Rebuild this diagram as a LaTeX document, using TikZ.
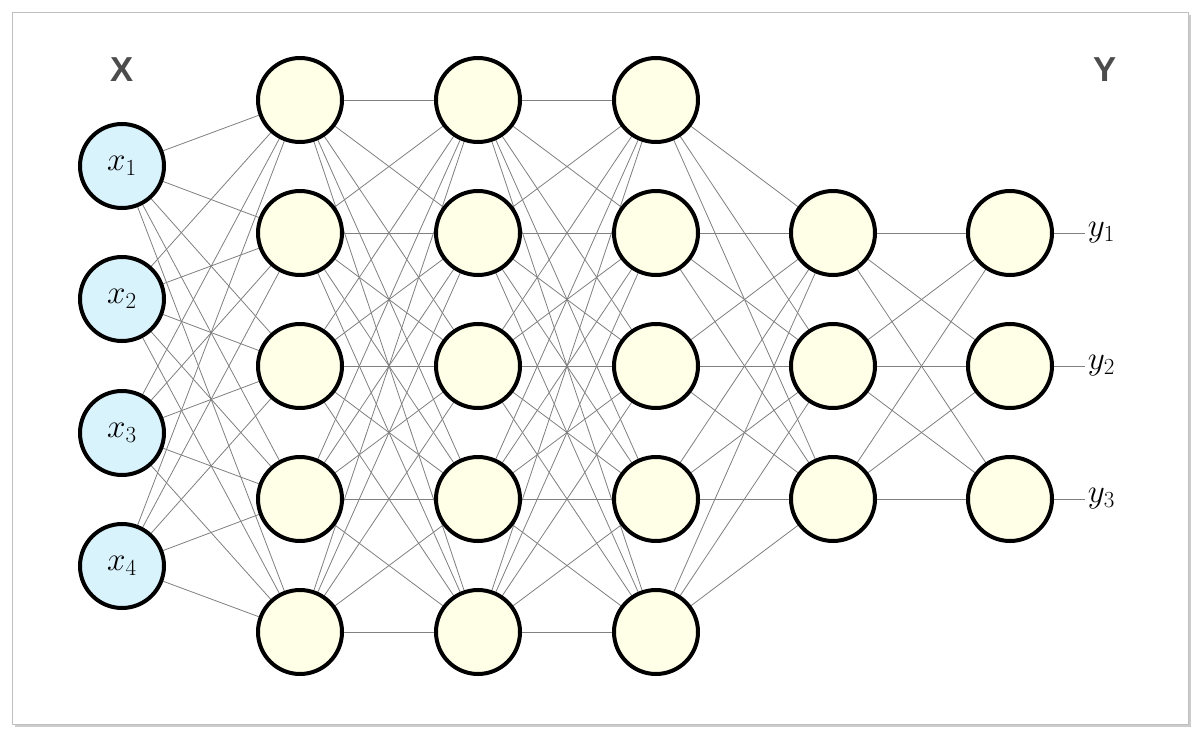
\documentclass[tikz,border=0pt]{standalone}
\usepackage{fontspec}
\setsansfont{Liberation Sans}
\begin{document}
\begin{tikzpicture}[x=0.75pt,y=-0.75pt,
  neuron/.style={circle,draw=black,line width=3pt,minimum size=63pt,inner sep=0pt},
  inp/.style={neuron,fill=cyan!15},
  hid/.style={neuron,fill=yellow!10},
  conn/.style={draw=gray,line width=0.6pt},
  big/.style={font=\sffamily\bfseries\fontsize{26}{30}\selectfont,text=black!70}]
\fill[white] (0,0) rectangle (1200,736);
\fill[black!20] (15,15) rectangle (1191,727);
\draw[black!25,fill=white] (12,12) rectangle (1188,724);
\useasboundingbox (0,0) rectangle (1200,736);
% layers
\foreach \i/\y in {1/166,2/299,3/433,4/566} \coordinate (i\i) at (122,\y);
\foreach \l/\x in {a/300,b/478,c/656} \foreach \i/\y in {1/100,2/233,3/366,4/499,5/632} \coordinate (\l\i) at (\x,\y);
\foreach \i/\y in {1/233,2/366,3/499} {\coordinate (d\i) at (833,\y); \coordinate (o\i) at (1010,\y); \coordinate (e\i) at (1085,\y);}
% connections
\foreach \p in {1,...,4} \foreach \q in {1,...,5} \draw[conn] (i\p) -- (a\q);
\foreach \p in {1,...,5} \foreach \q in {1,...,5} {\draw[conn] (a\p) -- (b\q); \draw[conn] (b\p) -- (c\q);}
\foreach \p in {1,...,5} \foreach \q in {1,...,3} \draw[conn] (c\p) -- (d\q);
\foreach \p in {1,...,3} \foreach \q in {1,...,3} \draw[conn] (d\p) -- (o\q);
\foreach \p in {1,...,3} \draw[conn] (o\p) -- (e\p);
% nodes
\foreach \i in {1,...,4} \node[inp] (ni\i) at (i\i) {\fontsize{24}{28}\selectfont$x_{\i}$};
\foreach \l in {a,b,c} \foreach \i in {1,...,5} \node[hid] (n\l\i) at (\l\i) {};
\foreach \i in {1,...,3} {\node[hid] (nd\i) at (d\i) {}; \node[hid] (no\i) at (o\i) {};
  \node[anchor=west,inner sep=2pt] (ny\i) at (e\i) {\fontsize{24}{28}\selectfont$y_{\i}$};}
\node[big] (X) at (122,70) {X};
\node[big] (Y) at (1105,70) {Y};
\end{tikzpicture}
\end{document}
